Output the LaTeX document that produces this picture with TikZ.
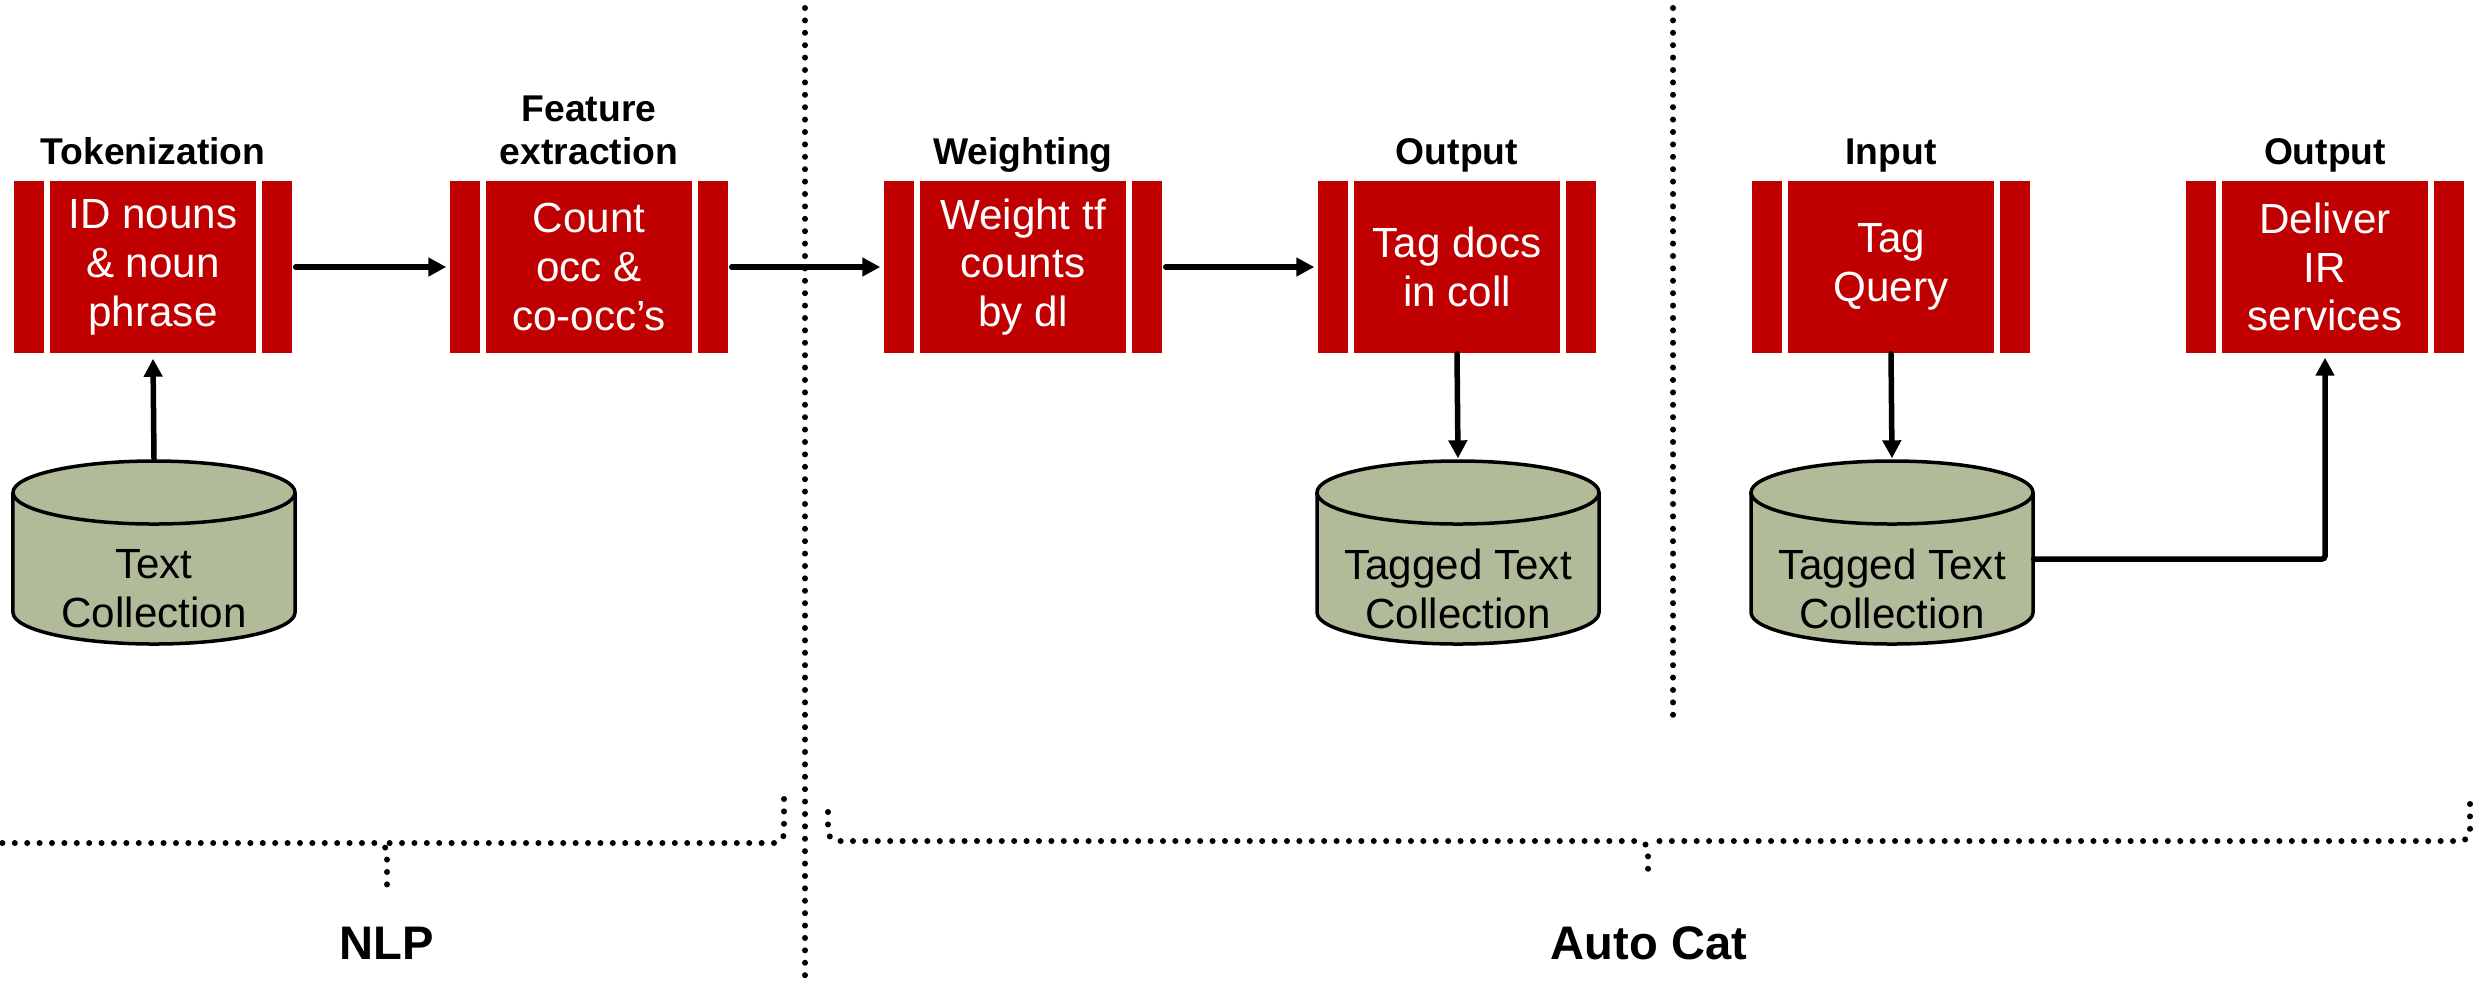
\documentclass[tikz,border=0pt]{standalone}
\usepackage{fontspec}
\setmainfont{Liberation Sans}
\usetikzlibrary{arrows.meta}
\definecolor{boxred}{HTML}{C00000}
\definecolor{cylfill}{HTML}{B2BB99}
\tikzset{
  procbox/.style={minimum width=2.78cm, minimum height=1.72cm, inner sep=0pt,
    fill=boxred, text=white, align=center,
    font=\fontsize{12}{13.9}\selectfont,
    path picture={
      \draw[white, line width=0.055cm]
        ([xshift=0.33cm]path picture bounding box.north west) --
        ([xshift=0.33cm]path picture bounding box.south west);
      \draw[white, line width=0.055cm]
        ([xshift=-0.33cm]path picture bounding box.north east) --
        ([xshift=-0.33cm]path picture bounding box.south east);}},
  steplabel/.style={font=\fontsize{10.6}{12.3}\selectfont\bfseries, align=center,
    anchor=south, inner sep=0pt, text depth=0pt},
  cyltext/.style={font=\fontsize{12}{13.9}\selectfont, align=center, inner sep=0pt},
  dbase/.style={minimum width=2.86cm, minimum height=1.87cm, inner sep=0pt,
    path picture={
      \path[fill=cylfill, draw=black, line width=0.035cm]
        ([shift={(0.02cm,-0.335cm)}]path picture bounding box.north west) --
        ([shift={(0.02cm,0.335cm)}]path picture bounding box.south west)
        arc[start angle=180, end angle=360, x radius=1.41cm, y radius=0.315cm] --
        ([shift={(-0.02cm,-0.335cm)}]path picture bounding box.north east)
        arc[start angle=0, end angle=180, x radius=1.41cm, y radius=0.315cm] -- cycle;
      \draw[line width=0.035cm]
        ([shift={(0.02cm,-0.335cm)}]path picture bounding box.north west)
        arc[start angle=180, end angle=360, x radius=1.41cm, y radius=0.315cm];}},
  flow/.style={line width=0.055cm, line cap=round, rounded corners=0.03cm,
    -{Triangle[length=0.18cm, width=0.18cm]}},
  dotline/.style={line width=0.06cm, dash pattern=on 0pt off 0.124cm, line cap=round},
  bracepath/.style={dotline, rounded corners=0.1cm},
  groupname/.style={font=\fontsize{13.4}{15}\selectfont\bfseries, anchor=base, inner sep=0pt}
}
\begin{document}
\begin{tikzpicture}
\useasboundingbox (0,0) rectangle (24.74,-9.83);

% separators
\draw[dotline] (8.05,-0.08) -- (8.05,-9.83);
\draw[dotline] (16.73,-0.08) -- (16.73,-7.20);

% process boxes
\node[procbox] (b1) at (1.53,-2.67) {ID nouns\\\& noun\\phrase};
\node[procbox] (b2) at (5.89,-2.67) {Count\\occ \&\\co-occ’s};
\node[procbox] (b3) at (10.23,-2.67) {Weight tf\\counts\\by dl};
\node[procbox] (b4) at (14.57,-2.67) {Tag docs\\in coll};
\node[procbox] (b5) at (18.91,-2.67) {Tag\\Query};
\node[procbox] (b6) at (23.25,-2.67) {Deliver\\IR\\services};

% step labels
\node[steplabel] (l1) at (1.53,-1.65) {Tokenization};
\node[steplabel] (l2) at (5.89,-1.65) {Feature\\extraction};
\node[steplabel] (l3) at (10.23,-1.65) {Weighting};
\node[steplabel] (l4) at (14.57,-1.65) {Output};
\node[steplabel] (l5) at (18.91,-1.65) {Input};
\node[steplabel] (l6) at (23.25,-1.65) {Output};

% databases
\node[dbase, label={[cyltext, yshift=-0.36cm]center:Text\\Collection}] (c1) at (1.54,-5.525) {};
\node[dbase, label={[cyltext, yshift=-0.36cm]center:Tagged Text\\Collection}] (c2) at (14.58,-5.525) {};
\node[dbase, label={[cyltext, yshift=-0.36cm]center:Tagged Text\\Collection}] (c3) at (18.92,-5.525) {};

% connectors
\draw[flow] (c1.north) -- ([yshift=-0.05cm]b1.south);
\draw[flow] ([xshift=0.03cm]b1.east) -- ([xshift=-0.03cm]b2.west);
\draw[flow] ([xshift=0.03cm]b2.east) -- ([xshift=-0.03cm]b3.west);
\draw[flow] ([xshift=0.03cm]b3.east) -- ([xshift=-0.03cm]b4.west);
\draw[flow] (b4.south) -- (c2.north);
\draw[flow] (b5.south) -- (c3.north);
\draw[flow] ([xshift=-0.02cm,yshift=-0.065cm]c3.east) -| ([yshift=-0.04cm]b6.south);

% braces (dotted, square-ish)
\draw[bracepath] (-0.2,-7.99) |- (3.87,-8.43) -- (3.87,-8.87);
\draw[bracepath] (7.84,-7.99) |- (3.87,-8.43);
\draw[bracepath] (8.28,-8.12) |- (16.48,-8.41) -- (16.48,-8.76);
\draw[bracepath] (24.70,-8.04) |- (16.48,-8.41);

\node[groupname] (nlp) at (3.87,-9.59) {NLP};
\node[groupname] (autocat) at (16.49,-9.59) {Auto Cat};
\end{tikzpicture}
\end{document}
